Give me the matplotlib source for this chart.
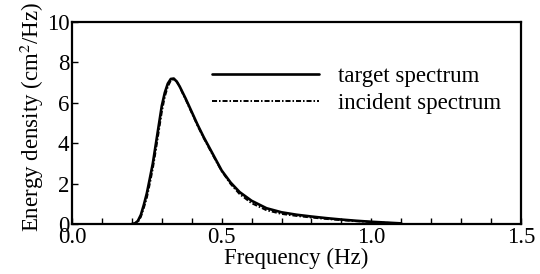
import matplotlib
matplotlib.use("Agg")
import matplotlib.pyplot as plt
from matplotlib.ticker import MultipleLocator

plt.rcParams['font.family'] = ['Liberation Serif', 'DejaVu Serif']
plt.rcParams['mathtext.fontset'] = 'stix'

freq = [0.20, 0.21, 0.22, 0.23, 0.24, 0.25, 0.26, 0.27, 0.28, 0.29, 0.30, 0.31,
        0.32, 0.33, 0.34, 0.35, 0.36, 0.37, 0.38, 0.40, 0.42, 0.44, 0.46, 0.48,
        0.50, 0.53, 0.56, 0.60, 0.65, 0.70, 0.75, 0.80, 0.85, 0.90, 0.95, 1.00,
        1.05, 1.10]
target = [0.0, 0.03, 0.15, 0.45, 0.95, 1.52, 2.25, 3.0, 3.95, 4.9, 5.85, 6.5,
          6.95, 7.18, 7.2, 7.05, 6.8, 6.5, 6.2, 5.55, 4.9, 4.3, 3.75, 3.2,
          2.65, 2.05, 1.58, 1.15, 0.78, 0.58, 0.46, 0.37, 0.29, 0.22, 0.16, 0.11,
          0.07, 0.03]
incident = [0.0, 0.02, 0.1, 0.35, 0.8, 1.3, 2.0, 2.75, 3.65, 4.6, 5.55, 6.3,
            6.8, 7.1, 7.15, 7.05, 6.8, 6.45, 6.15, 5.5, 4.85, 4.25, 3.7, 3.15,
            2.62, 1.98, 1.48, 1.03, 0.68, 0.5, 0.4, 0.32, 0.25, 0.19, 0.14, 0.1,
            0.06, 0.03]
xticks = [0.0, 0.5, 1.0, 1.5]
yticks = [0, 2, 4, 6, 8, 10]

FS = 16.5

fig = plt.figure(figsize=(5.4, 2.74), dpi=100)
ax = fig.add_axes([72/540, 1-224/274, (521-72)/540, (224-22)/274])

ax.plot(freq, target, color='black', lw=1.9, solid_capstyle='round',
        solid_joinstyle='round', label='target spectrum')
ax.plot(freq, incident, color='black', lw=1.4, linestyle=(0, (2.6, 1.0, 0.8, 1.0)),
        label='incident spectrum')

ax.set_xlim(0, 1.5)
ax.set_ylim(0, 10)
ax.set_xticks(xticks)
ax.set_xticklabels([f"{v:.1f}" for v in xticks])
ax.set_yticks(yticks)
ax.set_yticklabels([str(v) for v in yticks])
ax.xaxis.set_minor_locator(MultipleLocator(0.1))
ax.tick_params(axis='both', which='both', direction='in', labelsize=FS, width=1.0)
ax.tick_params(axis='both', which='major', length=4, pad=2)
ax.tick_params(axis='x', which='minor', length=4)
for s in ax.spines.values():
    s.set_linewidth(1.6)

ax.set_xlabel('Frequency (Hz)', fontsize=FS, labelpad=0)
ax.set_ylabel('Energy density (cm$^2$/Hz)', fontsize=FS)
ax.yaxis.set_label_coords(-0.058, 0.53)

leg = ax.legend(loc='upper left', bbox_to_anchor=(212/540, 1-66/274), bbox_transform=fig.transFigure,
                frameon=False, fontsize=FS, handlelength=4.67, handletextpad=0.83,
                borderpad=0, borderaxespad=0, labelspacing=0.28)

fig.savefig('out.png', dpi=100)
